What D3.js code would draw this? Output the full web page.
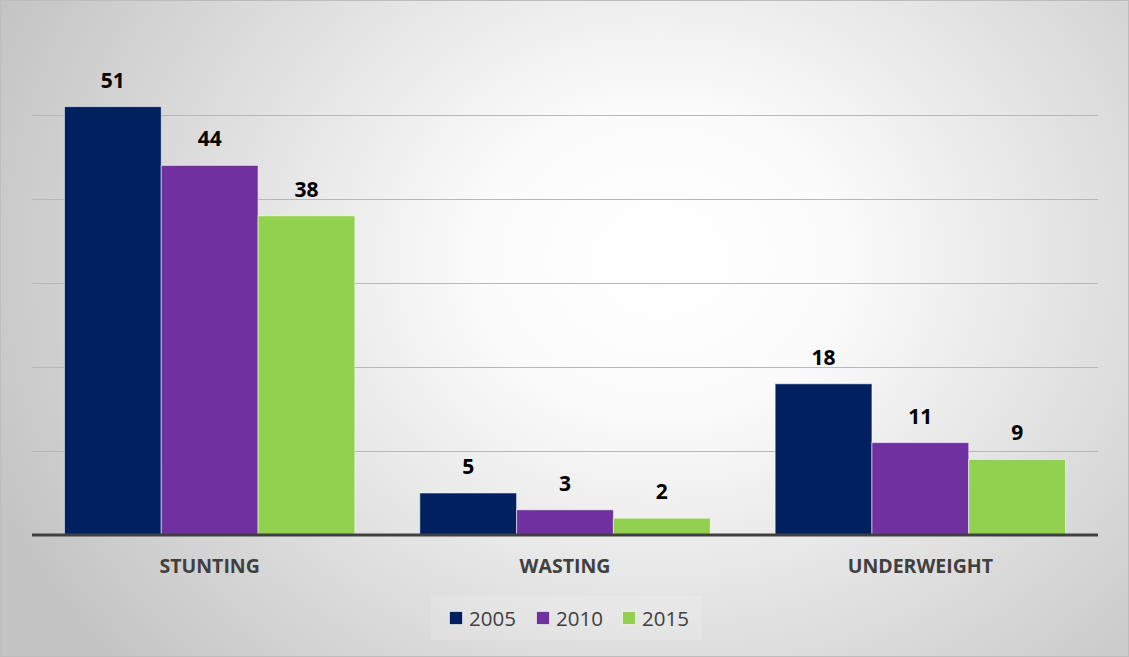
<!DOCTYPE html>
<html><head><meta charset="utf-8">
<script src="https://cdn.jsdelivr.net/npm/d3@7"></script>
<style>html,body{margin:0;padding:0;background:#fff;}svg{display:block;}</style>
</head><body>
<svg id="chart" width="1129" height="657"></svg>
<script>
const categories = ["STUNTING", "WASTING", "UNDERWEIGHT"];
const years = ["2005", "2010", "2015"];
const values2005 = [51, 5, 18];
const values2010 = [44, 3, 11];
const values2015 = [38, 2, 9];
const colors = ["#002060", "#7030A0", "#92D050"];
const gridTicks = [10, 20, 30, 40, 50];

(function () {
const series = [values2005, values2010, values2015];
const W = 1129, H = 657;
const svg = d3.select("#chart");
const defs = svg.append("defs");
const rg = defs.append("radialGradient").attr("id", "bg")
  .attr("gradientUnits", "userSpaceOnUse")
  .attr("cx", 660).attr("cy", 260).attr("r", 720)
  .attr("gradientTransform", "translate(660,260) scale(1,0.85) translate(-660,-260)");
rg.append("stop").attr("offset", "0%").attr("stop-color", "#ffffff");
rg.append("stop").attr("offset", "25%").attr("stop-color", "#fbfbfb");
rg.append("stop").attr("offset", "100%").attr("stop-color", "#c4c4c4");

svg.append("rect").attr("x", 0.5).attr("y", 0.5).attr("width", W - 1).attr("height", H - 1)
  .attr("fill", "url(#bg)").attr("stroke", "#bdbdbd").attr("stroke-width", 1);

const pLeft = 32, pRight = 1098, pTop = 30, pBottom = 535;
const x0 = d3.scaleBand().domain(categories).range([pLeft, pRight]).paddingInner(0.1827).paddingOuter(0.0913);
const x1 = d3.scaleBand().domain(years).range([0, x0.bandwidth()]).padding(0);
const y = d3.scaleLinear().domain([0, 60.12]).range([pBottom, pTop]);

svg.append("g").selectAll("line").data(gridTicks).join("line")
  .attr("x1", pLeft).attr("x2", pRight)
  .attr("y1", d => Math.round(y(d)) + 0.5).attr("y2", d => Math.round(y(d)) + 0.5)
  .attr("stroke", "#b8b8b8").attr("stroke-width", 1);

const groups = svg.append("g").selectAll("g").data(categories).join("g")
  .attr("transform", c => `translate(${x0(c)},0)`);
groups.each(function (c, ci) {
  const g = d3.select(this);
  years.forEach((yr, si) => {
    const v = series[si][ci];
    g.append("rect")
      .attr("x", x1(yr)).attr("y", y(v))
      .attr("width", x1.bandwidth()).attr("height", pBottom - y(v))
      .attr("fill", colors[si])
      .attr("stroke", "rgba(255,255,255,0.55)").attr("stroke-width", 1);
    g.append("text")
      .attr("x", x1(yr) + x1.bandwidth() / 2).attr("y", y(v) - 19)
      .attr("text-anchor", "middle")
      .attr("font-family", "'Open Sans', sans-serif").attr("font-weight", "bold")
      .attr("font-size", 21).attr("fill", "#000")
      .text(v);
  });
});

const xAxis = d3.axisBottom(x0).tickSize(0).tickPadding(0);
const ax = svg.append("g").attr("transform", `translate(0,${pBottom})`).call(xAxis);
ax.select(".domain").attr("stroke", "#404040").attr("stroke-width", 3)
  .attr("d", `M${pLeft},0H${pRight}`);
ax.selectAll("text")
  .attr("y", 38).attr("dy", 0)
  .attr("font-family", "'Open Sans', sans-serif").attr("font-weight", "bold")
  .attr("font-size", 19.5).attr("fill", "#404040");

const lg = svg.append("g");
lg.append("rect").attr("x", 431).attr("y", 596).attr("width", 271).attr("height", 44)
  .attr("fill", "rgba(255,255,255,0.14)");
const legX = [449, 536, 622];
years.forEach((yr, i) => {
  lg.append("rect").attr("x", legX[i] + 0.5).attr("y", 611.5).attr("width", 13).attr("height", 13)
    .attr("fill", colors[i]).attr("stroke", "rgba(255,255,255,0.6)").attr("stroke-width", 1);
  lg.append("text").attr("x", legX[i] + 20).attr("y", 625.5)
    .attr("font-family", "'Open Sans', sans-serif").attr("font-size", 20.5).attr("fill", "#404040")
    .text(yr);
});
})();
</script>
</body></html>
